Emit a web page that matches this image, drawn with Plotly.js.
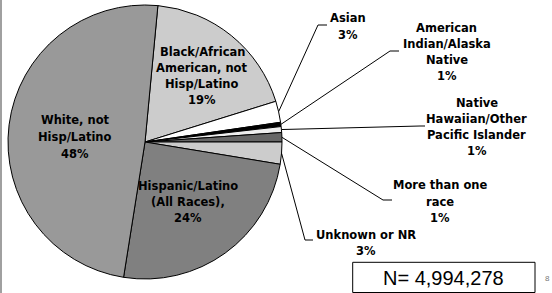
<!DOCTYPE html>
<html><head><meta charset="utf-8">
<script src="https://cdn.plot.ly/plotly-3.0.1.min.js"></script>
<style>html,body{margin:0;padding:0;background:#fff;}#chart{width:552px;height:293px;}</style>
</head><body><div id="chart"></div>
<script>
// ---- data ----
const categories = ["Black/African American, not Hisp/Latino", "Asian", "American Indian/Alaska Native",
  "Native Hawaiian/Other Pacific Islander", "More than one race", "Unknown or NR",
  "Hispanic/Latino (All Races)", "White, not Hisp/Latino"];
const shares = [18.7, 2.5, 0.5, 0.7, 1.1, 2.6, 24.9, 49.0];
const percentLabels = ["19%", "3%", "1%", "1%", "1%", "3%", "24%", "48%"];
const labelLines = [
  ["Black/African", "American, not", "Hisp/Latino"],
  ["Asian"],
  ["American", "Indian/Alaska", "Native"],
  ["Native", "Hawaiian/Other", "Pacific Islander"],
  ["More than one", "race"],
  ["Unknown or NR"],
  ["Hispanic/Latino", "(All Races),"],
  ["White, not", "Hisp/Latino"]
];
const sliceColors = ["#cccccc", "#ffffff", "#000000", "#eeeeee", "#666666", "#cccccc", "#808080", "#999999"];
const totalN = "N= 4,994,278";

// ---- layout geometry ----
const W = 552, H = 293;
const CX = 145, CY = 142, R = 137;
const ROT = 5.4;
const px = x => x / W;
const py = y => 1 - y / H;

// label placement: [centerX, firstLineCenterY, lineHeight], and leader elbows
const labelPos = [
  [202, 52, 16], [347.7, 18, 17], [446.7, 28, 16], [476.7, 103, 16],
  [440, 185, 16.5], [366, 235, 15.5], [188, 186, 16], [75, 120, 17]
];
const leaders = {1: [[318, 25], [327, 25]], 2: [[390, 51], [399, 51]], 3: [[420, 126], [425, 126]],
  4: [[383, 200], [392, 200]], 5: [[305, 240], [313, 240]]};

const total = shares.reduce((a, b) => a + b, 0);
let cum = 0;
const midAngles = shares.map(v => { const a = ROT + (cum + v / 2) / total * 360; cum += v; return a; });

const annotations = [];
const shapes = [];
const labFont = {family: "DejaVu Sans", size: 11.5, color: "#000"};
labelLines.forEach((lines, i) => {
  const [x, y0, lh] = labelPos[i];
  const all = lines.concat([percentLabels[i]]);
  all.forEach((t, k) => {
    annotations.push({xref: "paper", yref: "paper", x: px(x), y: py(y0 + k * lh), text: "<b>" + t + "</b>",
      showarrow: false, xanchor: "center", yanchor: "middle", font: labFont});
  });
  if (leaders[i]) {
    const a = midAngles[i] * Math.PI / 180;
    const sx = CX + R * Math.sin(a), sy = CY - R * Math.cos(a);
    const [e, f] = leaders[i];
    shapes.push({type: "path", xref: "paper", yref: "paper",
      path: `M ${px(sx)} ${py(sy)} L ${px(e[0])} ${py(e[1])} L ${px(f[0])} ${py(f[1])}`,
      line: {color: "#000", width: 1}});
  }
});

// N box
shapes.push({type: "rect", xref: "paper", yref: "paper", x0: px(352.7), x1: px(535), y0: py(292.5), y1: py(262.3),
  line: {color: "#000", width: 1}});
annotations.push({xref: "paper", yref: "paper", x: px(443.8), y: py(277.5), text: totalN, showarrow: false,
  xanchor: "center", yanchor: "middle", font: {family: "Liberation Sans, Arial", size: 20, color: "#000"}});
annotations.push({xref: "paper", yref: "paper", x: px(547), y: py(278), text: "8", showarrow: false,
  xanchor: "center", yanchor: "middle", font: {family: "Liberation Sans, Arial", size: 8, color: "#777"}});
// left border
shapes.push({type: "line", xref: "paper", yref: "paper", x0: px(1), x1: px(1), y0: 0, y1: 1,
  line: {color: "#a0a0a0", width: 2}});

const trace = {
  type: "pie", labels: categories, values: shares, sort: false, direction: "clockwise", rotation: ROT,
  marker: {colors: sliceColors, line: {color: "#000", width: 1}},
  textinfo: "none", hoverinfo: "label+percent", showlegend: false,
  domain: {x: [px(CX - R), px(CX + R)], y: [py(CY + R), py(CY - R)]}
};

Plotly.newPlot("chart", [trace], {
  width: W, height: H, margin: {l: 0, r: 0, t: 0, b: 0},
  paper_bgcolor: "#fff", plot_bgcolor: "#fff",
  annotations: annotations, shapes: shapes, showlegend: false
}, {staticPlot: true});
</script></body></html>
